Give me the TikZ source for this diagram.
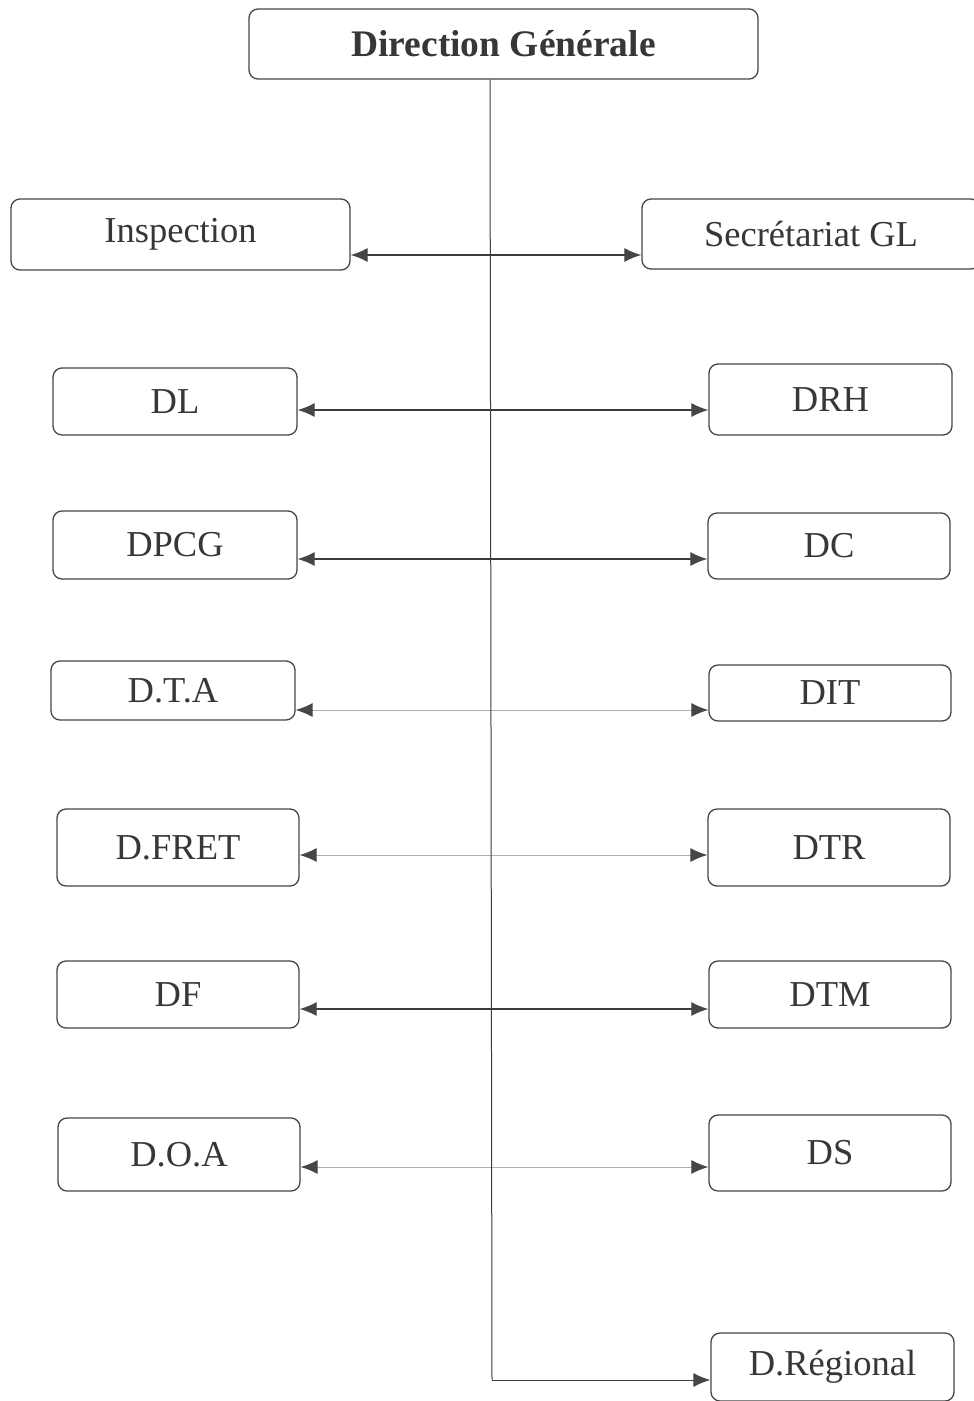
\documentclass[tikz,border=0pt]{standalone}
\usepackage{fontspec}
\setmainfont{Liberation Serif}
\usetikzlibrary{arrows.meta}
\definecolor{boxline}{RGB}{70,70,70}
\definecolor{darkline}{RGB}{60,60,60}
\definecolor{lightline}{RGB}{175,175,175}
\definecolor{tipcol}{RGB}{70,70,70}
\definecolor{txt}{RGB}{55,55,55}
\tikzset{
  orgbox/.style={draw=boxline, line width=1.3pt, rounded corners=9pt, fill=white,
    text=txt, font=\fontsize{36.5}{42}\selectfont, inner sep=0pt},
  tip/.tip={Latex[length=17pt,width=14pt,color=tipcol]},
  link/.style={draw=darkline, line width=1.2pt, tip-tip},
  lightlink/.style={link, draw=lightline, line width=1pt},
  trunk/.style={draw=darkline, line width=1pt},
}
\begin{document}
\begin{tikzpicture}[x=1pt,y=-1pt]
\useasboundingbox (0,0) rectangle (974,1401);
\clip (0,0) rectangle (974,1401);
\fill[white] (0,0) rectangle (974,1401);

\coordinate (top) at (490,79);
\coordinate (bend) at (492,1380);

\node[orgbox, minimum width=509pt, minimum height=70pt, font=\fontsize{37.5}{42}\selectfont\bfseries] (DG) at (503.5,44) {Direction Générale};
\node[orgbox, minimum width=339pt, minimum height=71pt] (INS) at (180.5,234.5) {Inspection};
\node[orgbox, minimum width=338pt, minimum height=70pt] (SEC) at (811,234) {Secrétariat GL};
\node[orgbox, minimum width=244pt, minimum height=67pt] (DL) at (175,401.5) {DL};
\node[orgbox, minimum width=243pt, minimum height=71pt] (DRH) at (830.5,399.5) {DRH};
\node[orgbox, minimum width=244pt, minimum height=68pt] (DPCG) at (175,545) {DPCG};
\node[orgbox, minimum width=242pt, minimum height=66pt] (DC) at (829,546) {DC};
\node[orgbox, minimum width=244pt, minimum height=59pt] (DTA) at (173,690.5) {D.T.A};
\node[orgbox, minimum width=242pt, minimum height=56pt] (DIT) at (830,693) {DIT};
\node[orgbox, minimum width=242pt, minimum height=77pt] (DFRET) at (178,847.5) {D.FRET};
\node[orgbox, minimum width=242pt, minimum height=77pt] (DTR) at (829,847.5) {DTR};
\node[orgbox, minimum width=242pt, minimum height=67pt] (DF) at (178,994.5) {DF};
\node[orgbox, minimum width=242pt, minimum height=67pt] (DTM) at (830,994.5) {DTM};
\node[orgbox, minimum width=242pt, minimum height=73pt] (DOA) at (179,1154.5) {D.O.A};
\node[orgbox, minimum width=242pt, minimum height=76pt] (DS) at (830,1153) {DS};
\node[orgbox, minimum width=243pt, minimum height=68pt] (DREG) at (832.5,1367) {D.Régional};

% horizontal links
\draw[link] (INS.east |- 0,255) -- (SEC.west |- 0,255);
\draw[link] (DL.east |- 0,410) -- (DRH.west |- 0,410);
\draw[link] (DPCG.east |- 0,559) -- (DC.west |- 0,559);
\draw[lightlink] (DTA.east |- 0,710) -- (DIT.west |- 0,710);
\draw[lightlink] (DFRET.east |- 0,855) -- (DTR.west |- 0,855);
\draw[link] (DF.east |- 0,1009) -- (DTM.west |- 0,1009);
\draw[lightlink] (DOA.east |- 0,1167) -- (DS.west |- 0,1167);

% trunk
\draw[trunk] (DG.south -| top) -- (bend);
\draw[trunk, -tip] (bend) -- (DREG.west |- bend);
\end{tikzpicture}
\end{document}
